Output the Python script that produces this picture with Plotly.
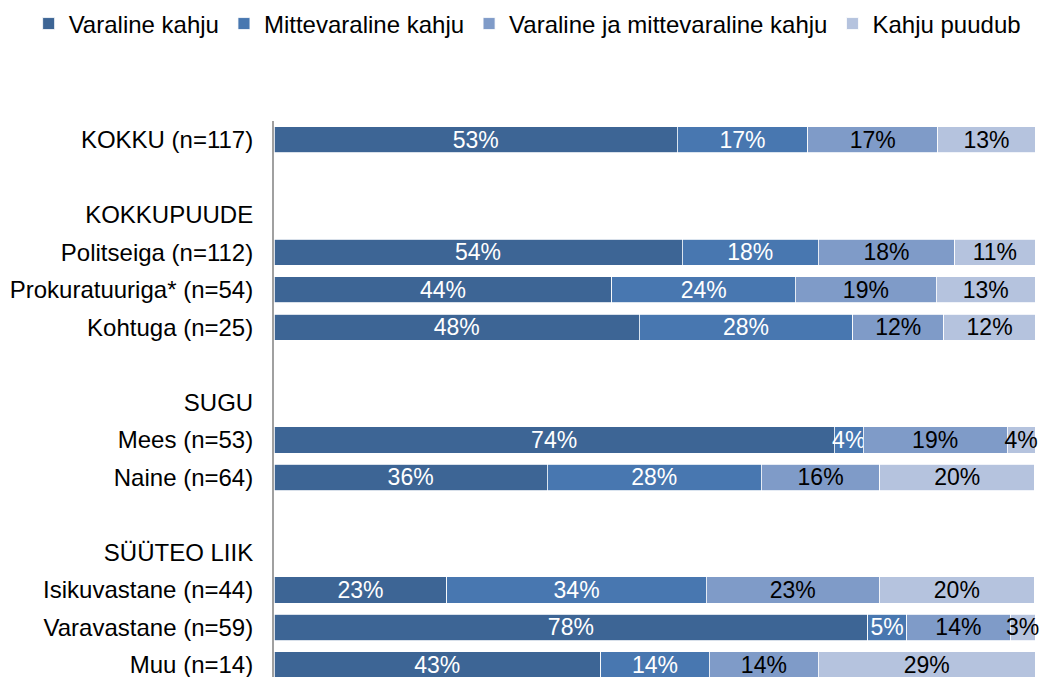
import plotly.graph_objects as go

# row order on the y axis (group headers and spacer rows have no bars)
ROW_ORDER = [
    "KOKKU (n=117)", " ",
    "KOKKUPUUDE", "Politseiga (n=112)", "Prokuratuuriga* (n=54)", "Kohtuga (n=25)", "  ",
    "SUGU", "Mees (n=53)", "Naine (n=64)", "   ",
    "SÜÜTEO LIIK", "Isikuvastane (n=44)", "Varavastane (n=59)", "Muu (n=14)",
]

groups = [
    "KOKKU (n=117)", "Politseiga (n=112)", "Prokuratuuriga* (n=54)", "Kohtuga (n=25)",
    "Mees (n=53)", "Naine (n=64)", "Isikuvastane (n=44)", "Varavastane (n=59)", "Muu (n=14)",
]

# shares in percent
varaline = [53.0, 53.6, 44.4, 48.0, 73.6, 35.9, 22.7, 78.0, 42.9]
mittevaraline = [17.1, 17.9, 24.1, 28.0, 3.8, 28.1, 34.1, 5.1, 14.3]
molemad = [17.1, 17.9, 18.5, 12.0, 18.9, 15.6, 22.7, 13.6, 14.3]
puudub = [12.8, 10.6, 13.0, 12.0, 3.7, 20.3, 20.4, 3.3, 28.5]

series = [
    ("Varaline kahju", varaline, "#3d6595", "white"),
    ("Mittevaraline kahju", mittevaraline, "#4877b0", "white"),
    ("Varaline ja mittevaraline kahju", molemad, "#7f9bc8", "black"),
    ("Kahju puudub", puudub, "#b5c3de", "black"),
]

FONT = "Liberation Sans, Arial, sans-serif"

fig = go.Figure()
for name, vals, color, txtcolor in series:
    fig.add_trace(go.Bar(
        name=name,
        y=groups,
        x=vals,
        orientation="h",
        marker=dict(color=color, line=dict(color="white", width=0.8)),
        width=0.7,
        text=vals,
        texttemplate="%{x:.0f}%",
        textposition="inside",
        insidetextanchor="middle",
        textangle=0,
        cliponaxis=False,
        textfont=dict(color=txtcolor, size=23, family=FONT),
        hoverinfo="skip",
    ))

fig.update_layout(
    barmode="stack",
    width=1040,
    height=677,
    margin=dict(l=274, r=4, t=121, b=0, autoexpand=False),
    plot_bgcolor="white",
    paper_bgcolor="white",
    font=dict(family=FONT, size=24, color="black"),
    uniformtext=dict(minsize=23, mode="show"),
    legend=dict(
        orientation="h",
        x=-0.322, y=1.215,
        xanchor="left", yanchor="top",
        font=dict(size=24, color="black"),
        traceorder="normal",
    ),
    xaxis=dict(range=[0, 100.1], visible=False),
    yaxis=dict(
        type="category",
        categoryorder="array",
        categoryarray=ROW_ORDER,
        range=[14.32, -0.5],
        showgrid=False,
        ticks="",
        showline=True,
        linecolor="#a0a0a0",
        linewidth=2,
        ticklabelstandoff=14,
        tickfont=dict(size=24, color="black"),
    ),
)

fig.write_html(
    "out.html",
    config={"displayModeBar": False},
    post_script="document.body.style.margin = '0';",
)
